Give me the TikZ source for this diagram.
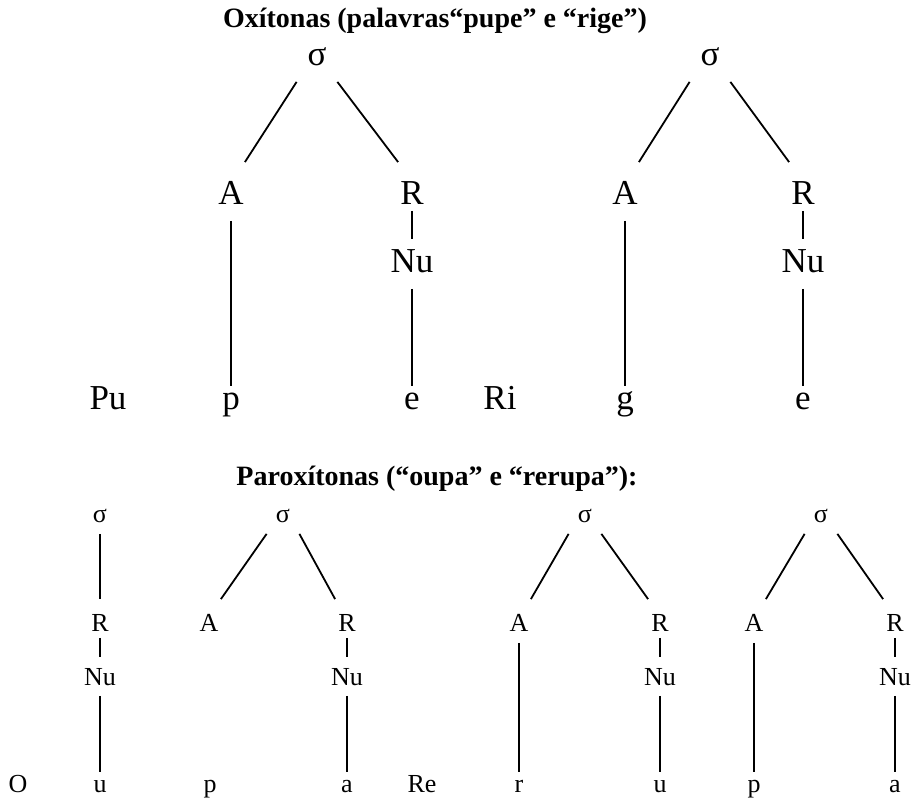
\documentclass[tikz,border=0pt]{standalone}
\usepackage{fontspec}
\setmainfont{Liberation Serif}
\begin{document}
\begin{tikzpicture}[x=1pt, y=-1pt, line width=1.8pt,
		title/.style={ anchor=base, inner sep=0pt,
				font=\fontsize{28}{28}\selectfont\bfseries },
		big/.style={ anchor=base, inner xsep=0pt, inner ysep=15pt,
				text height=27pt, text depth=0pt, minimum width=26pt,
				font=\fontsize{35}{35}\selectfont },
		bigsig/.style={ big, minimum width=39pt },
		bigleaf/.style={ big, text height=8pt },
		small/.style={ anchor=base, inner xsep=0pt, inner ysep=10pt,
				text height=22pt, text depth=0pt, minimum width=22pt,
				font=\fontsize{26}{26}\selectfont },
		smallsig/.style={ small, minimum width=31pt },
		smallleaf/.style={ small, text height=9pt },
		bigstub/.style={ shorten <=-10pt, shorten >=-9pt },
		smallstub/.style={ shorten <=-5pt, shorten >=-5pt } ]

	\useasboundingbox (0,0) rectangle (914,799);

	\node[title] (oxi) at (435,28) {Oxítonas (palavras“pupe” e “rige”)};
	\node[title] (parox) at (437,486) {Paroxítonas (“oupa” e “rerupa”):};

	% pupe
	\node[bigsig] (s1) at (317,66) {σ};
	\node[big] (A1) at (231,205) {A};
	\node[big] (R1) at (412,205) {R};
	\node[big] (Nu1) at (412,273) {Nu};
	\node[big] (Pu) at (108,410) {Pu};
	\node[bigleaf] (p1) at (231,410) {p};
	\node[bigleaf] (e1) at (412,410) {e};

	% rige
	\node[bigsig] (s2) at (710,66) {σ};
	\node[big] (A2) at (625,205) {A};
	\node[big] (R2) at (803,205) {R};
	\node[big] (Nu2) at (803,273) {Nu};
	\node[big] (Ri) at (500,410) {Ri};
	\node[bigleaf] (g2) at (625,410) {g};
	\node[bigleaf] (e2) at (803,410) {e};

	% oupa
	\node[small] (O) at (18,792) {O};
	\node[smallsig] (s3) at (100,523) {σ};
	\node[small] (R3) at (100,632) {R};
	\node[small] (Nu3) at (100,685) {Nu};
	\node[smallleaf] (u3) at (100,792) {u};
	\node[smallsig] (s4) at (283,523) {σ};
	\node[small] (A4) at (209,632) {A};
	\node[small] (R4) at (347,632) {R};
	\node[small] (Nu4) at (347,685) {Nu};
	\node[smallleaf] (p4) at (210,792) {p};
	\node[smallleaf] (a4) at (347,792) {a};

	% rerupa
	\node[small] (Re) at (422,792) {Re};
	\node[smallsig] (s5) at (585,523) {σ};
	\node[small] (A5) at (519,632) {A};
	\node[small] (R5) at (660,632) {R};
	\node[small] (Nu5) at (660,685) {Nu};
	\node[smallleaf] (r5) at (519,792) {r};
	\node[smallleaf] (u5) at (660,792) {u};
	\node[smallsig] (s6) at (821,523) {σ};
	\node[small] (A6) at (754,632) {A};
	\node[small] (R6) at (895,632) {R};
	\node[small] (Nu6) at (895,685) {Nu};
	\node[smallleaf] (p6) at (754,792) {p};
	\node[smallleaf] (a6) at (895,792) {a};

	\draw (s1.south west) -- (A1.north east);
	\draw (s1.south east) -- (R1.north west);
	\draw (A1) -- (p1);
	\draw[bigstub] (R1) -- (Nu1);
	\draw (Nu1) -- (e1);

	\draw (s2.south west) -- (A2.north east);
	\draw (s2.south east) -- (R2.north west);
	\draw (A2) -- (g2);
	\draw[bigstub] (R2) -- (Nu2);
	\draw (Nu2) -- (e2);

	\draw (s3) -- (R3);
	\draw[smallstub] (R3) -- (Nu3);
	\draw (Nu3) -- (u3);

	\draw (s4.south west) -- (A4.north east);
	\draw (s4.south east) -- (R4.north west);
	\draw[smallstub] (R4) -- (Nu4);
	\draw (Nu4) -- (a4);

	\draw (s5.south west) -- (A5.north east);
	\draw (s5.south east) -- (R5.north west);
	\draw (A5) -- (r5);
	\draw[smallstub] (R5) -- (Nu5);
	\draw (Nu5) -- (u5);

	\draw (s6.south west) -- (A6.north east);
	\draw (s6.south east) -- (R6.north west);
	\draw (A6) -- (p6);
	\draw[smallstub] (R6) -- (Nu6);
	\draw (Nu6) -- (a6);
\end{tikzpicture}
\end{document}
